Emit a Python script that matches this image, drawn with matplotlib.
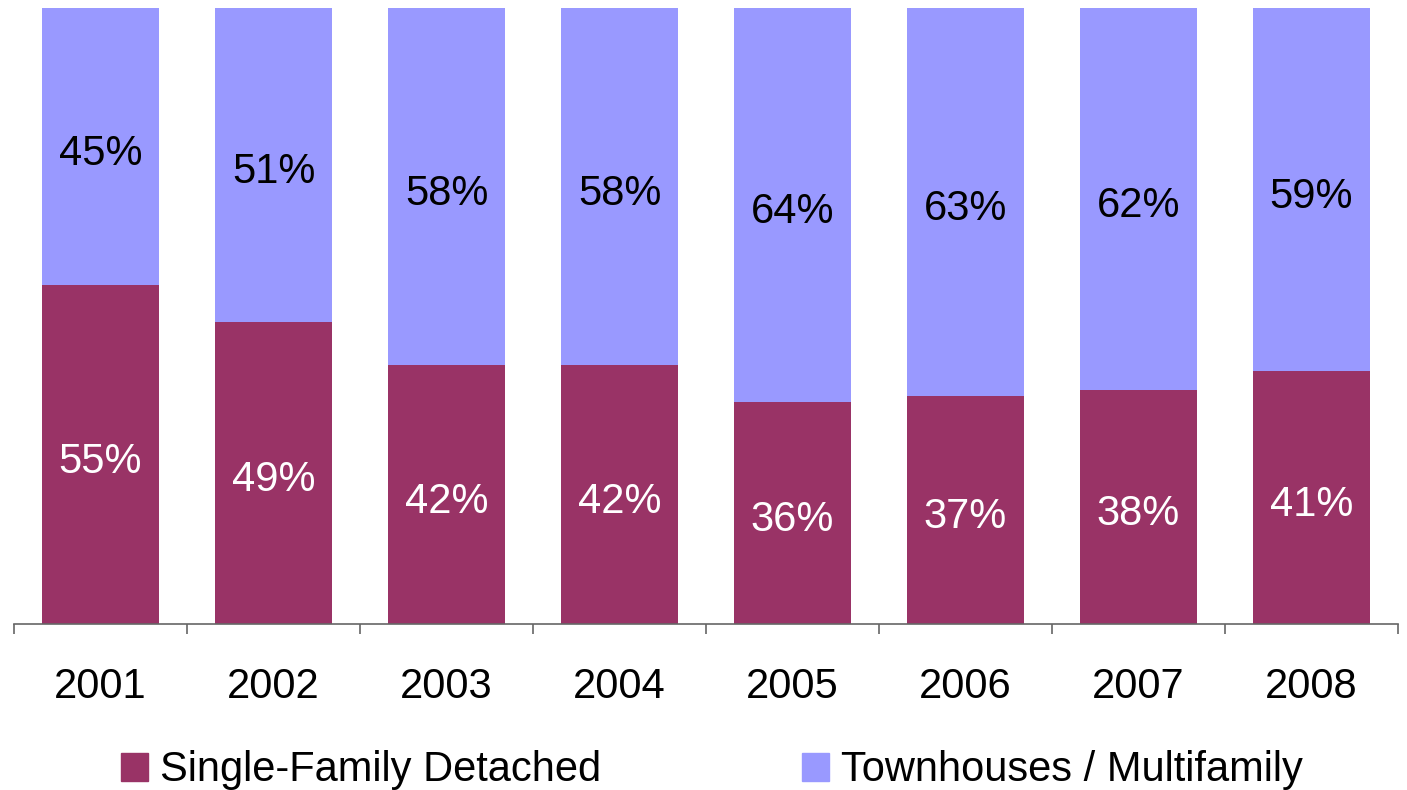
import matplotlib.pyplot as plt
import numpy as np
from matplotlib.patches import Patch

plt.rcParams['font.family'] = ['Liberation Sans', 'DejaVu Sans']

years = ['2001', '2002', '2003', '2004', '2005', '2006', '2007', '2008']
single_family = [55, 49, 42, 42, 36, 37, 38, 41]
townhouses = [45, 51, 58, 58, 64, 63, 62, 59]

sf_color = '#993366'
th_color = '#9999FF'
axis_color = '#666666'

fig = plt.figure(figsize=(14.07, 7.90), dpi=100)
ax = fig.add_axes([0.00995, 0.2101, 0.98365, 0.7798])

x = np.arange(len(years))
width = 0.675
ax.bar(x, single_family, width, color=sf_color)
ax.bar(x, townhouses, width, bottom=single_family, color=th_color)

# segment labels, nudged down a little like the original
for i in range(len(years)):
    sf = single_family[i]
    th = townhouses[i]
    ax.annotate(f'{sf}%', (x[i], sf / 2), xytext=(0, -5), textcoords='offset points',
                ha='center', va='center', fontsize=30, color='white')
    ax.annotate(f'{th}%', (x[i], sf + th / 2), xytext=(0, -5), textcoords='offset points',
                ha='center', va='center', fontsize=30, color='black')

ax.set_xlim(-0.5, len(years) - 0.5)
ax.set_ylim(0, 100)

for side in ['left', 'right', 'top']:
    ax.spines[side].set_visible(False)
ax.spines['bottom'].set_color(axis_color)
ax.spines['bottom'].set_linewidth(1.2)

ax.set_yticks([])
ax.set_xticks(x)
ax.set_xticklabels(years, fontsize=30)
ax.tick_params(axis='x', which='major', length=0, pad=31)
ax.set_xticks(np.arange(-0.5, len(years), 1), minor=True)
ax.tick_params(axis='x', which='minor', length=7, width=1.2, color=axis_color)

handles = [Patch(color=sf_color, label='Single-Family Detached'),
           Patch(color=th_color, label='Townhouses / Multifamily')]
fig.legend(handles=handles, loc='center', bbox_to_anchor=(0.506, 0.025),
           ncol=2, frameon=False, fontsize=30, handlelength=0.65,
           handleheight=0.65, handletextpad=0.3, columnspacing=4.8)

fig.savefig('out.png', dpi=100)
